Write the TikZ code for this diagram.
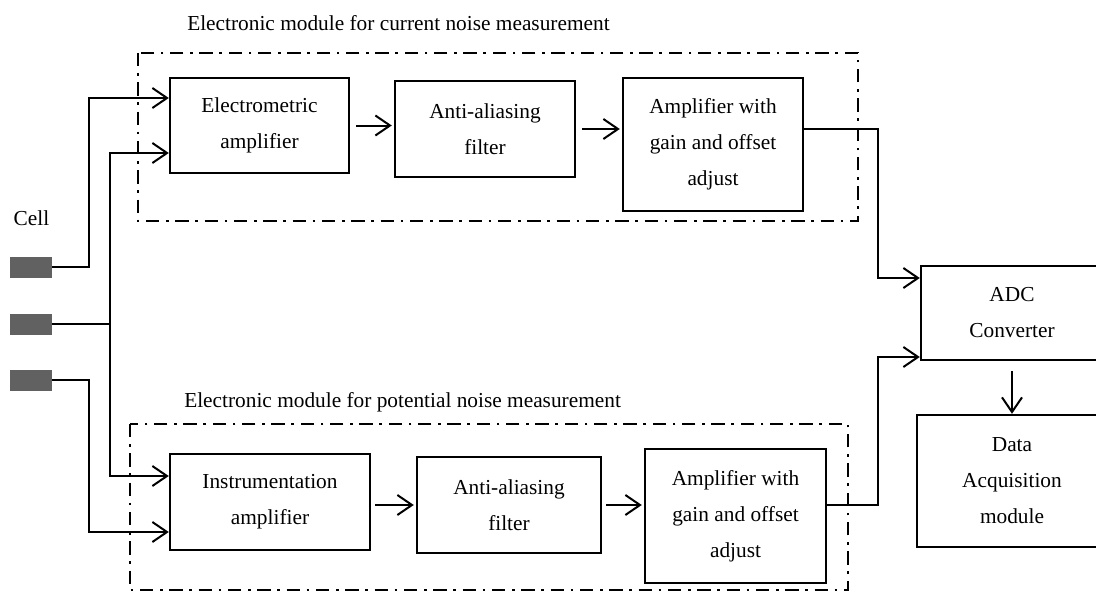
\documentclass[tikz,border=0pt]{standalone}
\usepackage{fontspec}
\setmainfont{Liberation Serif}
\usetikzlibrary{calc,arrows.meta}

\tikzset{
  blk/.style={draw, line width=1.8pt, align=center, inner sep=0pt,
    font=\fontsize{16}{27}\selectfont},
  arr/.style={line width=1.5pt, -{Straight Barb[length=11pt,width=15pt,line width=1.5pt]}},
  wire/.style={line width=1.5pt},
  modbox/.style={line width=1.5pt, dash pattern=on 10pt off 5pt on 2pt off 5pt},
  electrode/.style={fill=black!62, minimum width=31.5pt, minimum height=15.75pt, inner sep=0pt},
  lbl/.style={font=\fontsize{16}{19}\selectfont, inner sep=0pt},
}

\begin{document}
\begin{tikzpicture}[x=0.75pt,y=-0.75pt]
        % pixel grid of the sheet, y runs down
        \useasboundingbox (0,0) rectangle (1096,592);

        % module frames
        \draw[modbox] (138,53) rectangle (858,221);
        \draw[modbox] (130,424) rectangle (848,590);
        \node[lbl, anchor=base west] (topTitle) at (187,31) {Electronic module for current noise measurement};
        \node[lbl, anchor=base west] (botTitle) at (184,407) {Electronic module for potential noise measurement};

        % cell electrodes
        \node[lbl, anchor=base] (cell) at (31.5,225) {Cell};
        \node[electrode] (e1) at (31,267) {};
        \node[electrode] (e2) at (31,324) {};
        \node[electrode] (e3) at (31,380) {};

        % current branch
        \node[blk, minimum width=134.25pt, minimum height=71.25pt] (em) at (259.5,125.5) {Electrometric\\amplifier};
        \node[blk, minimum width=135pt, minimum height=72pt] (aaT) at (485,129) {Anti-aliasing\\filter};
        \node[blk, minimum width=135pt, minimum height=99.75pt] (ampT) at (713,144.5) {Amplifier with\\gain and offset\\adjust};

        % potential branch
        \node[blk, minimum width=150pt, minimum height=72pt] (inst) at (270,502) {Instrumentation\\amplifier};
        \node[blk, minimum width=138pt, minimum height=72pt] (aaB) at (509,505) {Anti-aliasing\\filter};
        \node[blk, minimum width=135.75pt, minimum height=100.5pt] (ampB) at (735.5,516) {Amplifier with\\gain and offset\\adjust};

        % acquisition
        \node[blk, minimum width=136.5pt, minimum height=70.5pt] (adc) at (1012,313) {ADC\\Converter};
        \node[blk, minimum width=142.5pt, minimum height=99pt] (daq) at (1012,481) {Data\\Acquisition\\module};

        % electrodes to the amplifiers
        \coordinate (jn) at (110,324);
        \draw[arr] (e1.east) -| ($(em.west)+(-80,-27.5)$) -- ($(em.west)+(0,-27.5)$);
        \draw[wire] (e2.east) -- (jn);
        \draw[arr] (jn) |- ($(em.west)+(0,27.5)$);
        \draw[arr] (jn) |- ($(inst.west)+(0,-26)$);
        \draw[arr] (e3.east) -| ($(inst.west)+(-80,30)$) -- ($(inst.west)+(0,30)$);

        % chains
        \draw[arr, shorten <=4.5pt, shorten >=1.5pt] (em.east) -- (aaT.west |- em.east);
        \draw[arr, shorten <=4.5pt, shorten >=1.5pt] (aaT.east) -- (ampT.west |- aaT.east);
        \draw[arr, shorten <=3pt, shorten >=1.5pt] (inst.east |- aaB.west) -- (aaB.west);
        \draw[arr, shorten <=3pt, shorten >=1.5pt] (aaB.east) -- (ampB.west |- aaB.east);

        % to the converter
        \draw[arr] (ampT.east |- aaT.east) -| ($(adc.west)+(-42,-35)$) -- ($(adc.west)+(0,-35)$);
        \draw[arr] (ampB.east |- aaB.east) -| ($(adc.west)+(-42,44)$) -- ($(adc.west)+(0,44)$);
        \draw[arr, shorten <=7.5pt] (adc) -- (daq);
    \end{tikzpicture}
\end{document}
